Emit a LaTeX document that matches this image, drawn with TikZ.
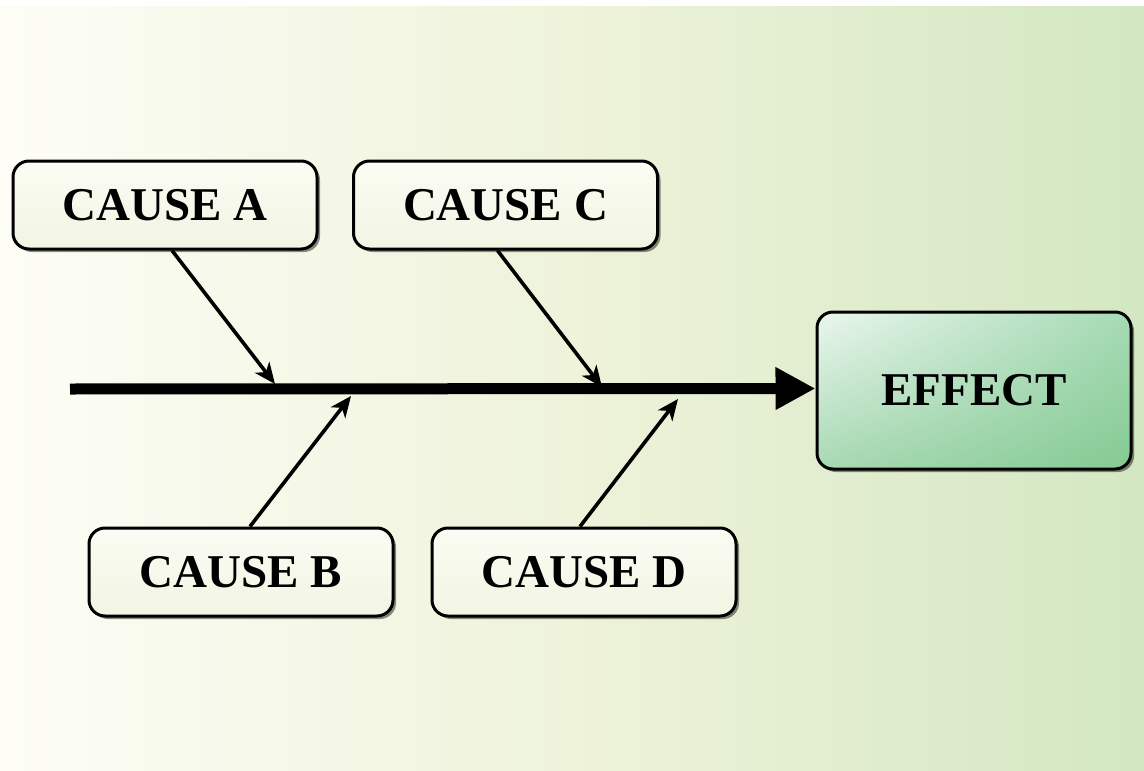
\documentclass[tikz,border=0pt]{standalone}
\usepackage{fontspec}
\setmainfont{Liberation Serif}
\usetikzlibrary{arrows.meta,shadows,shadings,calc}
\definecolor{bgL}{HTML}{FDFDF6}
\definecolor{bgM}{HTML}{EEF3DA}
\definecolor{bgR}{HTML}{D3E7C2}
\definecolor{causeTop}{HTML}{FBFCF4}
\definecolor{causeBot}{HTML}{F1F5E2}
\definecolor{effUL}{HTML}{EAF6EE}
\definecolor{effUR}{HTML}{A6DAB4}
\definecolor{effLL}{HTML}{A8D9B3}
\definecolor{effLR}{HTML}{84CA93}
\tikzset{
  box/.style={draw=black, line width=3pt, rounded corners=16pt,
    font=\fontsize{47}{50}\selectfont\bfseries, text=black,
    drop shadow={shadow xshift=3pt, shadow yshift=-3pt, fill=black, opacity=0.45}},
  causebox/.style={box, minimum width=304pt, minimum height=88pt,
    top color=causeTop, bottom color=causeBot},
  effectbox/.style={box, minimum width=314pt, minimum height=157pt,
    upper left=effUL, upper right=effUR, lower left=effLL, lower right=effLR},
  spine/.style={line width=11pt, -{Triangle[length=40pt,width=40pt]}},
  bone/.style={line width=3.6pt, -{Stealth[length=21pt,width=18pt,inset=6pt]}}
}
\begin{document}
\begin{tikzpicture}[x=1pt,y=-1pt]
\useasboundingbox (0,0) rectangle (1144,771);
\fill[white] (0,0) rectangle (1144,771);
\shade[left color=bgL, right color=bgM] (0,6) rectangle (572.5,775);
\shade[left color=bgM, right color=bgR] (572,6) rectangle (1144,775);

\node[causebox] (causeA) at (165,205) {CAUSE A};
\node[causebox] (causeC) at (505.5,205) {CAUSE C};
\node[causebox] (causeB) at (241,572) {CAUSE B};
\node[causebox] (causeD) at (584,572) {CAUSE D};
\node[effectbox] (effect) at (974,390.5) {EFFECT};

\coordinate (tail) at (70,389);
\coordinate (pA) at (275,384);
\coordinate (pC) at (602,387);
\coordinate (pB) at (351,396);
\coordinate (pD) at (678,399);

\draw[spine] (tail) -- ([yshift=2pt]effect.west);
\draw[bone] ([xshift=7pt]causeA.south) -- (pA);
\draw[bone] ([xshift=-8pt]causeC.south) -- (pC);
\draw[bone] ([xshift=9pt]causeB.north) -- (pB);
\draw[bone] ([xshift=-4pt]causeD.north) -- (pD);
\end{tikzpicture}
\end{document}
